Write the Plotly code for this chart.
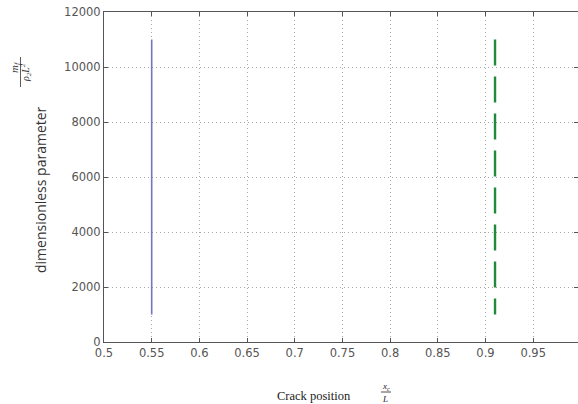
import plotly.graph_objects as go

# Crack-position results
crack_pos_a = [0.55, 0.55]
crack_pos_b = [0.91, 0.91]
param_span = [11000, 1000]

x_ticks = [0.5, 0.55, 0.6, 0.65, 0.7, 0.75, 0.8, 0.85, 0.9, 0.95, 1.0]
x_ticktext = ["0.5", "0.55", "0.6", "0.65", "0.7", "0.75", "0.8", "0.85", "0.9", "0.95", "1"]
y_ticks = [0, 2000, 4000, 6000, 8000, 10000, 12000]
y_ticktext = ["0", "2000", "4000", "6000", "8000", "10000", "12000"]

fig = go.Figure()
fig.add_trace(go.Scatter(x=crack_pos_a, y=param_span, mode="lines",
                         line=dict(color="#7474c0", width=1.6), showlegend=False))
fig.add_trace(go.Scatter(x=crack_pos_b, y=param_span, mode="lines",
                         line=dict(color="#1f8a3a", width=2.4, dash="26px,11px"),
                         showlegend=False))

axis_common = dict(
    showline=True, linecolor="#555555", linewidth=1, mirror="ticks",
    ticks="inside", ticklen=4, tickcolor="#555555",
    showgrid=True, gridcolor="#a8a8a8", griddash="1px,3px", gridwidth=1,
    zeroline=False,
    tickfont=dict(family="DejaVu Sans", size=11.5, color="#555555"),
)

fig.update_xaxes(range=[0.5, 0.997], tickvals=x_ticks, ticktext=x_ticktext, **axis_common)
fig.update_yaxes(range=[0, 12000], tickvals=y_ticks, ticktext=y_ticktext, **axis_common)

W, H = 578, 404
pl, pr, pt, pb = 104, 0, 12, 62
pw, ph = W - pl - pr, H - pt - pb

# Free-floating labels, positioned in figure pixels
annotations = [
    dict(text="dimensionless parameter", x=41, y=190, textangle=-90,
         font=dict(family="Open Sans", size=14, color="#333333")),
    dict(text="<i>m<sub>f</sub></i>", x=15, y=67, textangle=-90,
         font=dict(family="Liberation Serif", size=11, color="#333333")),
    dict(text="<i>ρ<sub>2</sub>L<sup>2</sup></i>", x=26, y=73, textangle=-90,
         font=dict(family="Liberation Serif", size=10, color="#333333")),
    dict(text="Crack position", x=314, y=396,
         font=dict(family="Liberation Serif", size=12.5, color="#222222")),
    dict(text="<i>x<sub>c</sub></i>", x=386, y=386,
         font=dict(family="Liberation Serif", size=9, color="#222222")),
    dict(text="<i>L</i>", x=385, y=399,
         font=dict(family="Liberation Serif", size=9, color="#222222")),
]

for a in annotations:
    px, py = a["x"], a["y"]
    a.update(xref="paper", yref="paper", showarrow=False,
             x=(px - pl) / pw, y=(H - pb - py) / ph,
             xanchor="center", yanchor="middle")

# Fraction bars
shapes = [
    dict(type="line", xref="paper", yref="paper",
         x0=(20.5 - pl) / pw, x1=(20.5 - pl) / pw,
         y0=(H - pb - 57) / ph, y1=(H - pb - 87) / ph,
         line=dict(color="#333333", width=0.8)),
    dict(type="line", xref="paper", yref="paper",
         x0=(381 - pl) / pw, x1=(391 - pl) / pw,
         y0=(H - pb - 392) / ph, y1=(H - pb - 392) / ph,
         line=dict(color="#222222", width=0.8)),
]

fig.update_layout(
    width=W, height=H,
    margin=dict(l=pl, r=pr, t=pt, b=pb),
    paper_bgcolor="white", plot_bgcolor="white",
    annotations=annotations, shapes=shapes,
)
fig.write_html("out.html")
